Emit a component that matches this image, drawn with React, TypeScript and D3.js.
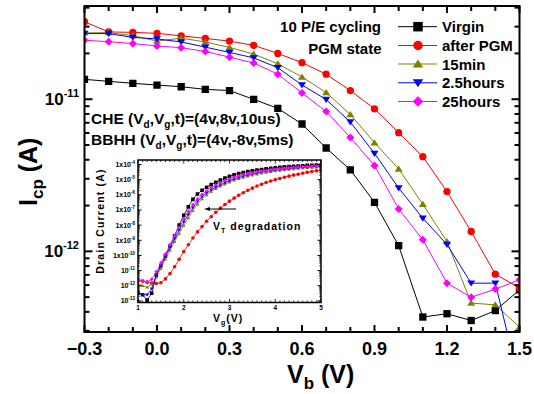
import React from 'react';
import * as d3 from 'd3';

// ---------- main chart data ----------
const vb = [-0.3, -0.2, -0.1, 0.0, 0.1, 0.2, 0.3, 0.4, 0.5, 0.6, 0.7, 0.8, 0.9, 1.0, 1.1, 1.2, 1.3, 1.4, 1.5];
const virgin = [1.351e-11, 1.311e-11, 1.272e-11, 1.239e-11, 1.208e-11, 1.161e-11, 1.14e-11, 9.98e-12, 8.71e-12, 6.87e-12, 4.78e-12, 3.43e-12, 2.1e-12, 1.09e-12, 3.7e-13, 3.89e-13, 3.51e-13, 4.08e-13, 5.58e-13];
const afterPGM = [3.23e-11, 2.77e-11, 2.75e-11, 2.71e-11, 2.61e-11, 2.51e-11, 2.41e-11, 2.26e-11, 2.0e-11, 1.74e-11, 1.46e-11, 1.14e-11, 8.65e-12, 6.03e-12, 4.19e-12, 2.47e-12, 1.35e-12, 7.08e-13, 5.74e-13];
const min15 = [2.73e-11, 2.74e-11, 2.62e-11, 2.41e-11, 2.52e-11, 2.38e-11, 2.19e-11, 1.98e-11, 1.71e-11, 1.4e-11, 1.107e-11, 7.94e-12, 5.18e-12, 3.48e-12, 2.04e-12, 1.16e-12, 4.57e-13, 4.45e-13, 3.18e-13];
const hours2_5 = [2.7e-11, 2.7e-11, 2.55e-11, 2.49e-11, 2.38e-11, 2.2e-11, 2.03e-11, 1.87e-11, 1.61e-11, 1.24e-11, 9.96e-12, 7.08e-12, 4.4e-12, 2.61e-12, 1.65e-12, 1.11e-12, 6.18e-13, 6.18e-13, 1.35e-13];
const hours25 = [2.44e-11, 2.39e-11, 2.32e-11, 2.24e-11, 2.18e-11, 2.06e-11, 1.89e-11, 1.73e-11, 1.46e-11, 1.1e-11, 8.3e-12, 5.61e-12, 3.66e-12, 1.9e-12, 1.19e-12, 6.18e-13, 4.99e-13, 5.65e-13, 6.5e-13];
const seriesNames = ['Virgin', 'after PGM', '15min', '2.5hours', '25hours'];
const seriesColors = ['#000000', '#ff0000', '#808000', '#0000ff', '#ff00ff'];
const seriesShapes = ['square', 'circle', 'triUp', 'triDown', 'diamond'];
const xTickLabels = [-0.3, 0.0, 0.3, 0.6, 0.9, 1.2, 1.5];
const yMajorTicks = [1e-12, 1e-11];
const yMajorExp = ['-12', '-11'];

// ---------- inset data (log10 of drain current) ----------
const insetVg = [1.0, 1.1, 1.2, 1.3, 1.4, 1.5, 1.6, 1.7, 1.8, 1.9, 2.0, 2.1, 2.2, 2.3, 2.4, 2.5, 2.6, 2.7, 2.8, 2.9, 3.0, 3.1, 3.2, 3.3, 3.4, 3.5, 3.6, 3.7, 3.8, 3.9, 4.0, 4.1, 4.2, 4.3, 4.4, 4.5, 4.6, 4.7, 4.8, 4.9, 5.0];
const insetVirginLog = [-12.5, -12.6, -12.95, -12.5, -11.3, -10.7, -10.05, -9.4, -8.7, -8.0, -7.35, -6.8, -6.3, -5.95, -5.7, -5.5, -5.33, -5.18, -5.03, -4.9, -4.78, -4.68, -4.6, -4.53, -4.47, -4.42, -4.37, -4.33, -4.29, -4.25, -4.22, -4.19, -4.16, -4.14, -4.12, -4.1, -4.08, -4.06, -4.05, -4.04, -4.03];
const insetAfterPGMLog = [-11.65, -11.7, -11.78, -11.82, -11.85, -11.8, -11.55, -11.2, -10.75, -10.25, -9.75, -9.3, -8.85, -8.45, -8.1, -7.75, -7.45, -7.15, -6.88, -6.64, -6.42, -6.22, -6.03, -5.86, -5.7, -5.56, -5.42, -5.3, -5.19, -5.09, -5.0, -4.92, -4.84, -4.77, -4.7, -4.64, -4.58, -4.52, -4.47, -4.42, -4.38];
const insetMin15Log = [-11.84, -12.0, -12.1, -11.9, -11.45, -10.86, -10.25, -9.66, -9.1, -8.55, -8.02, -7.52, -7.05, -6.62, -6.27, -6.0, -5.78, -5.59, -5.43, -5.29, -5.16, -5.04, -4.94, -4.85, -4.77, -4.7, -4.63, -4.57, -4.52, -4.47, -4.43, -4.39, -4.35, -4.32, -4.29, -4.26, -4.23, -4.21, -4.19, -4.17, -4.15];
const insetHours2_5Log = [-12.4, -12.6, -12.6, -12.2, -11.3, -10.65, -10.05, -9.48, -8.9, -8.33, -7.8, -7.3, -6.85, -6.45, -6.13, -5.88, -5.67, -5.5, -5.34, -5.2, -5.07, -4.96, -4.86, -4.77, -4.69, -4.62, -4.56, -4.5, -4.45, -4.41, -4.37, -4.33, -4.3, -4.27, -4.24, -4.21, -4.19, -4.16, -4.14, -4.12, -4.1];
const insetHours25Log = [-11.58, -11.67, -11.74, -11.58, -11.07, -10.5, -9.9, -9.3, -8.7, -8.15, -7.6, -7.1, -6.66, -6.28, -5.98, -5.74, -5.54, -5.36, -5.2, -5.06, -4.94, -4.84, -4.75, -4.67, -4.6, -4.54, -4.48, -4.43, -4.39, -4.35, -4.31, -4.28, -4.25, -4.22, -4.2, -4.17, -4.15, -4.13, -4.11, -4.09, -4.07];
const insetXTicks = [1, 2, 3, 4, 5];
const insetYExps = [-4, -5, -6, -7, -8, -9, -10, -11, -12, -13];

const W = 534;
const H = 394;
const FONT = "'Liberation Sans', Arial, sans-serif";

function markerPath(shape: string, s: number): string {
  const h = s / 2;
  switch (shape) {
    case 'square':
      return `M${-h},${-h}h${s}v${s}h${-s}Z`;
    case 'circle':
      return `M${h},0A${h},${h} 0 1,1 ${-h},0A${h},${h} 0 1,1 ${h},0Z`;
    case 'triUp':
      return `M0,${-h * 0.95}L${h * 1.1},${h * 0.75}L${-h * 1.1},${h * 0.75}Z`;
    case 'triDown':
      return `M0,${h * 0.95}L${h * 1.1},${-h * 0.75}L${-h * 1.1},${-h * 0.75}Z`;
    case 'diamond':
      return `M0,${-h * 1.1}L${h * 1.1},0L0,${h * 1.1}L${-h * 1.1},0Z`;
  }
  return '';
}

export default function App() {
  // main plot frame
  const L = 84.5, R = 519.5, T = 6, B = 332;
  const x = d3.scaleLinear().domain([-0.3, 1.5]).range([L, R]);
  const y = d3.scaleLog().domain([2.95e-13, 4.1e-11]).range([B, T]);

  const mainSeries = [virgin, afterPGM, min15, hours2_5, hours25];
  const line = d3.line<[number, number]>().x(d => x(d[0])).y(d => y(d[1]));

  const xMinor = d3.range(-3, 16).map(i => i / 10);
  const yMinor: number[] = [];
  [1e-13, 1e-12, 1e-11].forEach(dec => {
    for (let k = 2; k <= 9; k++) {
      const v = dec * k;
      if (v >= 2.95e-13 && v <= 4.1e-11) yMinor.push(v);
    }
  });

  // inset
  const iL = 138, iR = 321, iT = 160, iB = 302.5;
  const ix = d3.scaleLinear().domain([1, 5]).range([iL, iR]);
  const iy = d3.scaleLog().domain([7.8e-14, 1.98e-4]).range([iB, iT]);
  const insetSeries = [insetVirginLog, insetAfterPGMLog, insetMin15Log, insetHours2_5Log, insetHours25Log];
  const iline = d3.line<[number, number]>().x(d => ix(d[0])).y(d => iy(Math.pow(10, d[1])));
  const ixMinor = d3.range(10, 51).map(i => i / 10);
  const iyMinor: number[] = [];
  for (let e = -14; e <= -4; e++) {
    for (let k = 2; k <= 9; k++) {
      const v = k * Math.pow(10, e);
      if (v > 7.8e-14 && v < 1.98e-4) iyMinor.push(v);
    }
  }

  const legendY = [26.7, 45.5, 64, 82.8, 101.5];

  return (
    <svg width={W} height={H} style={{ position: 'absolute', left: 0, top: 0, background: '#fff' }} fontFamily={FONT} fontWeight="bold">
      <defs>
        <clipPath id="mainClip"><rect x={L} y={T} width={R - L} height={B - T} /></clipPath>
        <clipPath id="insetClip"><rect x={iL} y={iT} width={iR - iL} height={iB - iT} /></clipPath>
      </defs>
      <rect x={0} y={0} width={W} height={H} fill="#fff" />

      {/* main series */}
      <g clipPath="url(#mainClip)">
        {mainSeries.map((s, si) => (
          <g key={si}>
            <path d={line(vb.map((v, i) => [v, s[i]]) as [number, number][]) || ''} fill="none" stroke={seriesColors[si]} strokeWidth={1} />
            {vb.map((v, i) => (
              <path key={i} transform={`translate(${x(v)},${y(s[i])})`} d={markerPath(seriesShapes[si], 7.3)} fill={seriesColors[si]} />
            ))}
          </g>
        ))}
      </g>

      {/* main frame & ticks */}
      <rect x={L} y={T} width={R - L} height={B - T} fill="none" stroke="#000" strokeWidth={2} />
      {xMinor.map((v, i) => {
        const major = xTickLabels.some(t => Math.abs(t - v) < 1e-6);
        const len = major ? 7 : 5;
        return (
          <g key={i}>
            <line x1={x(v)} x2={x(v)} y1={B} y2={B - len} stroke="#000" strokeWidth={2} />
            <line x1={x(v)} x2={x(v)} y1={T} y2={T + len} stroke="#000" strokeWidth={2} />
          </g>
        );
      })}
      {yMajorTicks.map((v, i) => (
        <g key={i}>
          <line x1={L} x2={L + 8} y1={y(v)} y2={y(v)} stroke="#000" strokeWidth={2} />
          <line x1={R} x2={R - 8} y1={y(v)} y2={y(v)} stroke="#000" strokeWidth={2} />
          <text x={79} y={y(v) + 6} textAnchor="end" fontSize={17}>10<tspan dy={-8} fontSize={11}>{yMajorExp[i]}</tspan></text>
        </g>
      ))}
      {yMinor.map((v, i) => (
        <g key={i}>
          <line x1={L} x2={L + 5} y1={y(v)} y2={y(v)} stroke="#000" strokeWidth={2} />
          <line x1={R} x2={R - 5} y1={y(v)} y2={y(v)} stroke="#000" strokeWidth={2} />
        </g>
      ))}
      {xTickLabels.map((v, i) => (
        <text key={i} x={x(v)} y={355} textAnchor="middle" fontSize={18}>{d3.format('.1f')(v)}</text>
      ))}

      {/* axis titles */}
      <text x={287} y={383} fontSize={25}>V<tspan dy={6} fontSize={17}>b</tspan><tspan dy={-6}> (V)</tspan></text>
      <text transform="translate(37,206) rotate(-90)" fontSize={25}>I<tspan dy={6} fontSize={17}>cp</tspan><tspan dy={-6}> (A)</tspan></text>

      {/* annotations */}
      <text x={381} y={31.5} textAnchor="end" fontSize={15}>10 P/E cycling</text>
      <text x={381.5} y={53.5} textAnchor="end" fontSize={15}>PGM state</text>
      <text x={91} y={123.5} fontSize={15.5}>CHE (V<tspan dy={4} fontSize={10}>d</tspan><tspan dy={-4}>,V</tspan><tspan dy={4} fontSize={10}>g</tspan><tspan dy={-4}>,t)=(4v,8v,10us)</tspan></text>
      <text x={91} y={144.5} fontSize={15.5}>BBHH (V<tspan dy={4} fontSize={10}>d</tspan><tspan dy={-4}>,V</tspan><tspan dy={4} fontSize={10}>g</tspan><tspan dy={-4}>,t)=(4v,-8v,5ms)</tspan></text>

      {/* legend */}
      {seriesNames.map((n, i) => (
        <g key={i}>
          <line x1={398} x2={437} y1={legendY[i]} y2={legendY[i]} stroke={seriesColors[i]} strokeWidth={1} />
          <path transform={`translate(418,${legendY[i]})`} d={markerPath(seriesShapes[i], 9.5)} fill={seriesColors[i]} />
          <text x={442} y={legendY[i] + 5.5} fontSize={15}>{n}</text>
        </g>
      ))}

      {/* inset */}
      <rect x={iL} y={iT} width={iR - iL} height={iB - iT} fill="#fff" />
      <g clipPath="url(#insetClip)">
        {insetSeries.map((s, si) => (
          <g key={si}>
            <path d={iline(insetVg.map((v, i) => [v, s[i]]) as [number, number][]) || ''} fill="none" stroke={seriesColors[si]} strokeWidth={0.8} />
            {insetVg.map((v, i) => (
              <path key={i} transform={`translate(${ix(v)},${iy(Math.pow(10, s[i]))})`} d={markerPath(seriesShapes[si], 3.6)} fill={seriesColors[si]} />
            ))}
          </g>
        ))}
      </g>
      <rect x={iL} y={iT} width={iR - iL} height={iB - iT} fill="none" stroke="#000" strokeWidth={1.5} />
      {ixMinor.map((v, i) => {
        const major = Math.abs(v - Math.round(v)) < 1e-6;
        const len = major ? 3.5 : 2;
        return (
          <g key={i}>
            <line x1={ix(v)} x2={ix(v)} y1={iB} y2={iB - len} stroke="#000" strokeWidth={0.8} />
            <line x1={ix(v)} x2={ix(v)} y1={iT} y2={iT + len} stroke="#000" strokeWidth={0.8} />
          </g>
        );
      })}
      {insetYExps.map((e, i) => {
        const yy = iy(Math.pow(10, e));
        return (
          <g key={i}>
            <line x1={iL} x2={iL + 3.5} y1={yy} y2={yy} stroke="#000" strokeWidth={1} />
            <line x1={iR} x2={iR - 3.5} y1={yy} y2={yy} stroke="#000" strokeWidth={1} />
            <text x={135} y={yy + 2.5} textAnchor="end" fontSize={7}>{e >= -10 ? '1x10' : '10'}<tspan dy={-3} fontSize={4.5}>{e}</tspan></text>
          </g>
        );
      })}
      {iyMinor.map((v, i) => (
        <g key={i}>
          <line x1={iL} x2={iL + 2} y1={iy(v)} y2={iy(v)} stroke="#000" strokeWidth={0.6} />
          <line x1={iR} x2={iR - 2} y1={iy(v)} y2={iy(v)} stroke="#000" strokeWidth={0.6} />
        </g>
      ))}
      {insetXTicks.map((v, i) => (
        <text key={i} x={ix(v)} y={310} textAnchor="middle" fontSize={6.5}>{v}</text>
      ))}
      <text x={213} y={321.5} fontSize={10.5} letterSpacing={1}>V<tspan dy={3} fontSize={7}>g</tspan><tspan dy={-3}>(V)</tspan></text>
      <text transform="translate(104,221) rotate(-90)" textAnchor="middle" fontSize={10.5} letterSpacing={1.2}>Drain Current (A)</text>
      <text x={213} y={230} fontSize={10.5} letterSpacing={1}>V<tspan dy={3} fontSize={7}>T</tspan><tspan dy={-3}> degradation</tspan></text>
      <line x1={236} x2={207} y1={209} y2={209} stroke="#000" strokeWidth={1} />
      <path d="M204,209L210,207L210,211Z" fill="#000" />
    </svg>
  );
}
